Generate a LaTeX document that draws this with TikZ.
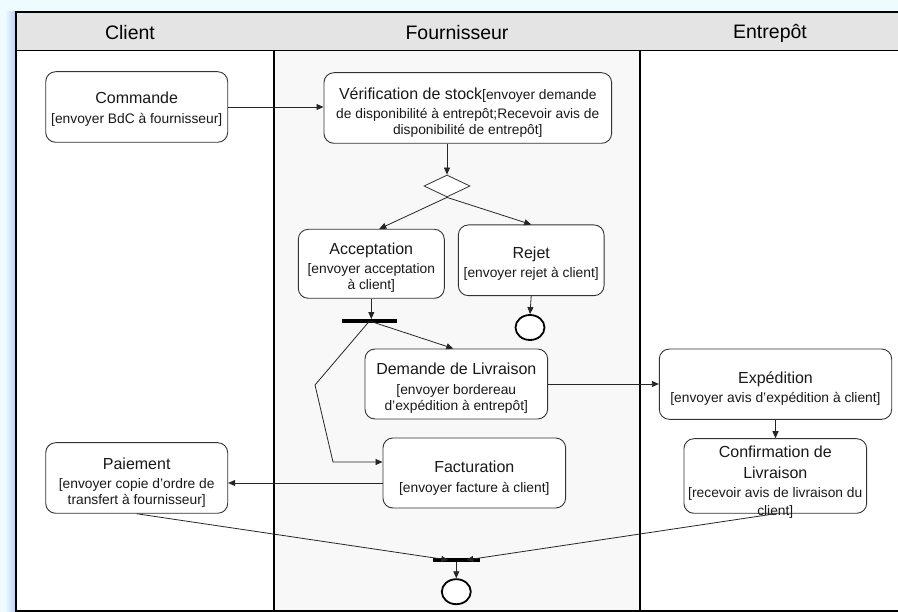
\documentclass[tikz,border=0pt]{standalone}
\usepackage{fontspec}
\setmainfont{Liberation Sans}
\usetikzlibrary{arrows.meta,shapes.geometric,calc}
\definecolor{bgcyan}{RGB}{238,251,255}
\definecolor{shadowblue}{RGB}{185,205,245}
\definecolor{hdrgrey}{RGB}{228,228,228}
\definecolor{lanegrey}{RGB}{248,248,248}
\definecolor{boxline}{RGB}{51,51,51}
\newcommand{\tfont}{\fontsize{16}{21}\selectfont}
\newcommand{\bfnt}{\fontsize{13.8}{16}\selectfont}
\newcommand{\hfont}{\fontsize{19.5}{23}\selectfont}
\begin{document}
\begin{tikzpicture}[x=1pt,y=-1pt,
  act/.style={draw=boxline,line width=0.9pt,rounded corners=10pt,fill=white,inner sep=0pt},
  acttxt/.style={align=center,font=\bfnt,inner sep=0pt,text=black!90},
  flow/.style={draw=black!85,line width=0.8pt,-{Triangle[length=7pt,width=6pt]}},
  syncbar/.style={fill=black,draw=none,inner sep=0pt,minimum height=3.5pt},
  final/.style={ellipse,draw=black,line width=1.8pt,fill=white,inner sep=0pt,minimum width=29pt,minimum height=25pt},
  choice/.style={diamond,draw=boxline,line width=0.8pt,fill=white,inner sep=0pt,minimum width=46pt,minimum height=22pt},
  lanetitle/.style={font=\hfont,inner sep=0pt}]
\useasboundingbox (0,0) rectangle (898,612);
\clip (0,0) rectangle (898,612);
% background
\fill[bgcyan] (0,0) rectangle (898,612);
\shade[left color=bgcyan,right color=shadowblue] (5,11.7) rectangle (15.7,612);
% lanes
\fill[white] (15.7,50.7) rectangle (274,612);
\fill[lanegrey] (274,50.7) rectangle (640,612);
\fill[white] (640,50.7) rectangle (900,612);
\fill[hdrgrey] (15.7,11.7) rectangle (900,50.7);
\draw[line width=1.4pt] (15.7,50.7) -- (900,50.7);
\draw[line width=1.3pt] (274,50.7) -- (274,612);
\draw[line width=1.3pt] (640,50.7) -- (640,612);
\draw[line width=1.8pt] (900,11.7) -- (15.7,11.7) -- (15.7,611) -- (900,611);
% lane titles
\node[lanetitle] (hcli) at (130,33) {Client};
\node[lanetitle] (hfou) at (457,33) {Fournisseur};
\node[lanetitle] (hent) at (770,33) {Entrepôt};
% activities
\node[act,minimum width=182pt,minimum height=70.6pt,
  label={[acttxt,yshift=-2.5pt]center:{{\tfont Commande}\\[4pt][envoyer BdC à fournisseur]}}] (cmd) at (136.7,107) {};
\node[act,minimum width=287.7pt,minimum height=70.6pt,
  label={[acttxt,yshift=-5pt]center:{{\tfont Vérification de stock}[envoyer demande\\[3pt]de disponibilité à entrepôt;Recevoir avis de\\disponibilité de entrepôt]}}] (ver) at (467.8,108) {};
\node[choice] (dia) at (447,186) {};
\node[act,minimum width=146pt,minimum height=69pt,
  label={[acttxt,yshift=-4pt]center:{{\tfont Acceptation}\\[3pt][envoyer acceptation\\à client]}}] (acc) at (371.3,263.8) {};
\node[act,minimum width=145.7pt,minimum height=70.7pt,
  label={[acttxt,yshift=-3.5pt]center:{{\tfont Rejet}\\[3pt][envoyer rejet à client]}}] (rej) at (531.2,260.3) {};
\node[syncbar,minimum width=55.6pt] (bar1) at (369.5,321) {};
\node[final] (fin1) at (530,327.5) {};
\node[act,minimum width=182.7pt,minimum height=70pt,
  label={[acttxt,yshift=-4pt]center:{{\tfont Demande de Livraison}\\[4pt][envoyer bordereau\\d’expédition à entrepôt]}}] (dem) at (456.3,384) {};
\node[act,minimum width=232.4pt,minimum height=70.3pt,
  label={[acttxt,yshift=-4.5pt]center:{{\tfont Expédition}\\[3pt][envoyer avis d’expédition à client]}}] (exp) at (775.5,384.2) {};
\node[act,minimum width=182.7pt,minimum height=74.6pt,
  label={[acttxt,yshift=-6pt]center:{{\tfont Confirmation de}\\[5pt]{\tfont Livraison}\\[3pt][recevoir avis de livraison du\\[1.5pt]client]}}] (conf) at (775.3,476) {};
\node[act,minimum width=182.7pt,minimum height=70pt,
  label={[acttxt,yshift=-5pt]center:{{\tfont Facturation}\\[4pt][envoyer facture à client]}}] (fac) at (474.3,473) {};
\node[act,minimum width=182pt,minimum height=70.6pt,
  label={[acttxt,yshift=-5pt]center:{{\tfont Paiement}\\[3pt][envoyer copie d’ordre de\\transfert à fournisseur]}}] (pai) at (136.7,478) {};
\node[syncbar,minimum width=47pt] (bar2) at (456.3,560) {};
\node[final] (fin2) at (456.3,591.7) {};
% connectors
\coordinate (k1) at (315,385);
\coordinate (k2) at (333,462);
\draw[flow] (cmd.east) -- (cmd.east -| ver.west);
\draw[flow] (ver.south -| dia.north) -- (dia.north);
\draw[flow] (dia.south) -- ([xshift=8pt]acc.north);
\draw[flow] (dia.south) -- (rej.north);
\draw[flow] (acc.south) -- (acc.south |- bar1.north);
\draw[flow] (bar1.center) -- ([xshift=-3pt]dem.north);
\draw[flow] (bar1.center) -- (k1) -- (k2) -- (k2 -| fac.west);
\draw[flow] ([yshift=-10pt]fac.west) -- ([yshift=-10pt]fac.west -| pai.east);
\draw[flow] (rej.south) -- (fin1.north);
\draw[flow] (dem.east) -- (dem.east -| exp.west);
\draw[flow] (exp.south) -- (exp.south |- conf.north);
\draw[flow] (pai.south) -- ([xshift=-8pt]bar2.center);
\draw[flow] (conf.south) -- ([xshift=10pt]bar2.center);
\draw[flow] (bar2.south) -- (fin2.north);
\end{tikzpicture}
\end{document}
